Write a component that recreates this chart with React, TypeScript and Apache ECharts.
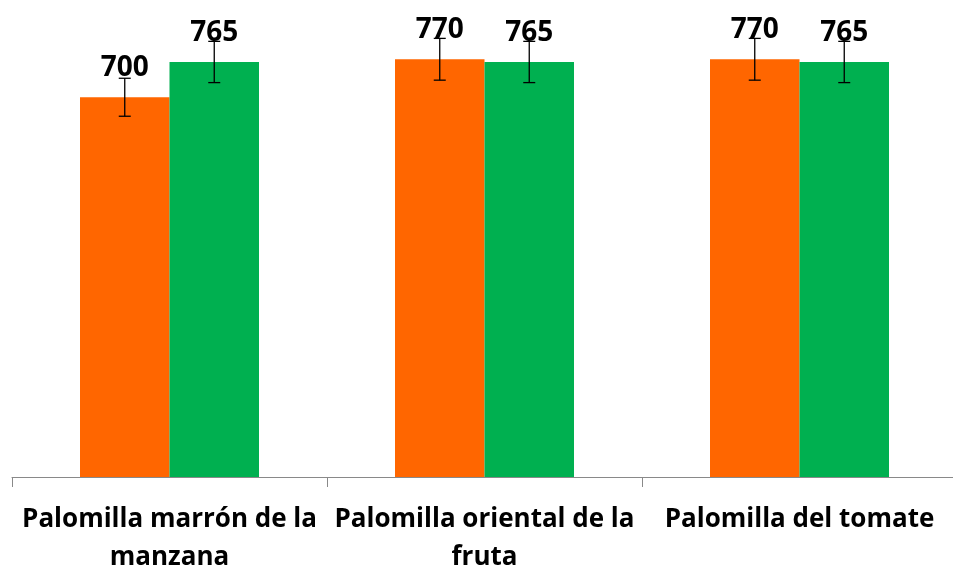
import React, { useEffect, useRef } from "react";
import * as echarts from "echarts";

const categories = [
  "Palomilla marrón de la\nmanzana",
  "Palomilla oriental de la\nfruta",
  "Palomilla del tomate",
];
const orangeValues = [700, 770, 770];
const greenValues = [765, 765, 765];
const orangeErrors = [35, 38.5, 38.5];
const greenErrors = [38, 38, 38];

const ORANGE = "#FF6600";
const GREEN = "#00B050";
const BAR_W = 89.5;
const FONT = "'Open Sans', sans-serif";

export default function App() {
  const ref = useRef<HTMLDivElement>(null);
  useEffect(() => {
    document.body.style.margin = "0";
    document.body.style.overflow = "hidden";
    const chart = echarts.init(ref.current!, undefined, { renderer: "svg" });
    const errData = (vals: number[], errs: number[]) =>
      vals.map((v, i) => [i, v, errs[i]]);
    const errSeries = (vals: number[], errs: number[], offset: number) => ({
      type: "custom",
      z: 5,
      silent: true,
      data: errData(vals, errs),
      renderItem: (params: any, api: any) => {
        const idx = api.value(0);
        const v = api.value(1);
        const e = api.value(2);
        const c = api.coord([idx, v]);
        const x = c[0] + offset;
        const yTop = api.coord([idx, v + e])[1];
        const yBot = api.coord([idx, v - e])[1];
        const style = { stroke: "#000", lineWidth: 1.3 };
        return {
          type: "group",
          children: [
            { type: "line", shape: { x1: x, y1: yTop, x2: x, y2: yBot }, style },
            { type: "line", shape: { x1: x - 6, y1: yTop, x2: x + 6, y2: yTop }, style },
            { type: "line", shape: { x1: x - 6, y1: yBot, x2: x + 6, y2: yBot }, style },
          ],
        };
      },
    });
    const label = {
      show: true,
      position: "top",
      distance: 18,
      color: "#000",
      fontFamily: FONT,
      fontWeight: "bold",
      fontSize: 28,
    };
    chart.setOption({
      animation: false,
      grid: {
        left: 12,
        top: 43,
        width: 945,
        bottom: 91,
        containLabel: false,
        outerBoundsMode: "none",
      },
      xAxis: {
        type: "category",
        data: categories,
        axisLine: { lineStyle: { color: "#898989", width: 1 } },
        axisTick: { show: true, length: 10, lineStyle: { color: "#898989" } },
        axisLabel: {
          interval: 0,
          margin: 21,
          color: "#000",
          fontFamily: FONT,
          fontWeight: "bold",
          fontSize: 26,
          lineHeight: 38,
        },
      },
      yAxis: {
        type: "value",
        min: 0,
        max: 800,
        show: false,
        splitLine: { show: false },
      },
      series: [
        {
          type: "bar",
          data: orangeValues,
          barWidth: BAR_W,
          barGap: "0%",
          itemStyle: { color: ORANGE },
          label,
        },
        {
          type: "bar",
          data: greenValues,
          barWidth: BAR_W,
          barGap: "0%",
          itemStyle: { color: GREEN },
          label,
        },
        errSeries(orangeValues, orangeErrors, -BAR_W / 2),
        errSeries(greenValues, greenErrors, BAR_W / 2),
      ],
    });
    return () => chart.dispose();
  }, []);
  return (
    <div
      ref={ref}
      style={{ position: "fixed", left: 0, top: 0, width: 960, height: 568 }}
    />
  );
}
